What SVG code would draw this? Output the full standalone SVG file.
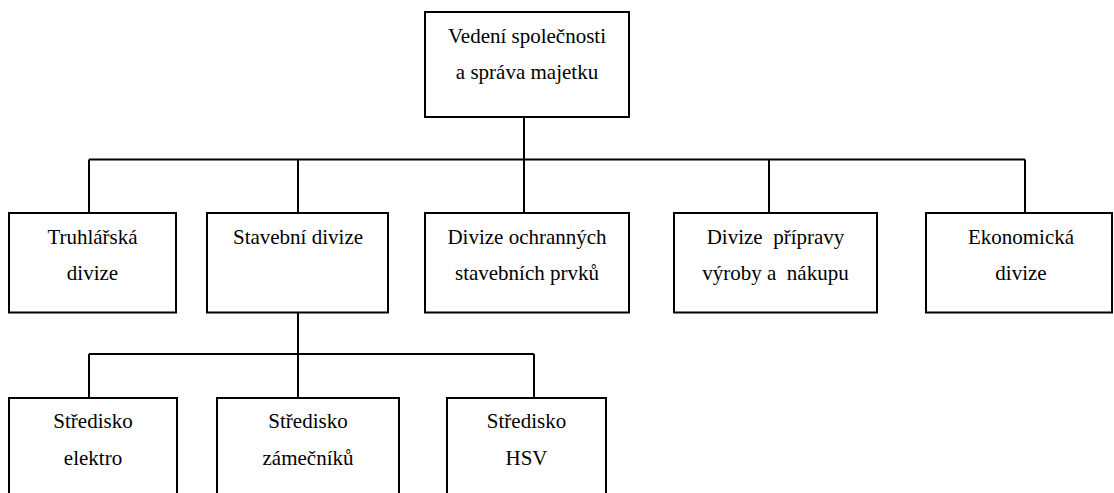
<svg xmlns="http://www.w3.org/2000/svg" width="1114" height="493" viewBox="0 0 1114 493">
<style>
.box{fill:#fff;stroke:#000;stroke-width:2}
.ln{fill:none;stroke:#000;stroke-width:2}
</style>
<rect width="1114" height="493" fill="#fff"/>
<g id="connectors" class="ln">
<path d="M524 117V159.5M89 159.5H1025M89 159.5V213M298 159.5V213M524 159.5V213M769 159.5V213M1025 159.5V213"/>
<path d="M298 313V398M89 354H534M89 354V398M534 354V398"/>
</g>
<g font-family="Liberation Serif" font-size="21" fill="#000" text-anchor="middle">
<g id="n-top"><rect class="box" x="425" y="12" width="204" height="105"/><text font-family="Liberation Serif" x="527" y="42.5">Vedení společnosti</text><text font-family="Liberation Serif" x="527" y="79">a správa majetku</text></g>
<g id="n-truhl"><rect class="box" x="9" y="213" width="167" height="99.5"/><text font-family="Liberation Serif" x="92.5" y="244">Truhlářská</text><text font-family="Liberation Serif" x="92.5" y="280">divize</text></g>
<g id="n-stav"><rect class="box" x="207" y="213" width="181" height="99.5"/><text font-family="Liberation Serif" x="298" y="244">Stavební divize</text></g>
<g id="n-ochr"><rect class="box" x="425" y="213" width="204" height="99.5"/><text font-family="Liberation Serif" x="527" y="244">Divize ochranných</text><text font-family="Liberation Serif" x="527" y="280">stavebních prvků</text></g>
<g id="n-prip"><rect class="box" x="674" y="213" width="203" height="99.5"/><text font-family="Liberation Serif" x="775.5" y="244" xml:space="preserve">Divize  přípravy</text><text font-family="Liberation Serif" x="775.5" y="280" xml:space="preserve">výroby a  nákupu</text></g>
<g id="n-ekon"><rect class="box" x="926" y="213" width="186" height="99.5"/><text font-family="Liberation Serif" x="1021" y="244">Ekonomická</text><text font-family="Liberation Serif" x="1021" y="280">divize</text></g>
<g id="n-elek"><rect class="box" x="9" y="398" width="168" height="120"/><text font-family="Liberation Serif" x="93" y="428">Středisko</text><text font-family="Liberation Serif" x="93" y="465">elektro</text></g>
<g id="n-zam"><rect class="box" x="217" y="398" width="182" height="120"/><text font-family="Liberation Serif" x="308" y="428">Středisko</text><text font-family="Liberation Serif" x="308" y="465">zámečníků</text></g>
<g id="n-hsv"><rect class="box" x="447" y="398" width="159" height="120"/><text font-family="Liberation Serif" x="526.5" y="428">Středisko</text><text font-family="Liberation Serif" x="526.5" y="465">HSV</text></g>
</g>
</svg>
